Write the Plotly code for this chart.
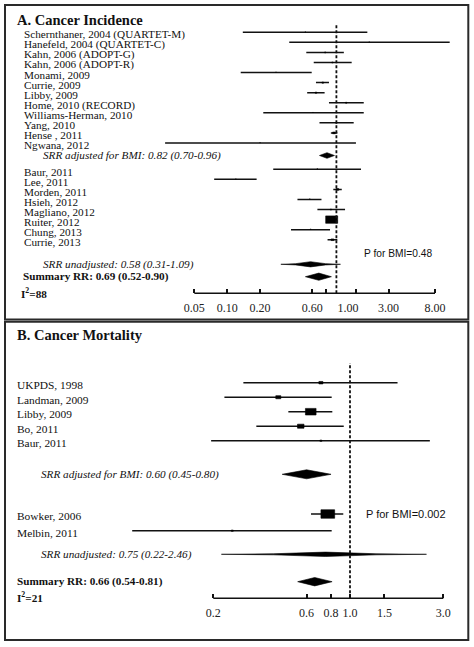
import numpy as np
import plotly.graph_objects as go

# ---------------- DATA ----------------
# Panel A: Cancer incidence
inc_g1_names = ["Schernthaner, 2004 (QUARTET-M)", "Hanefeld, 2004 (QUARTET-C)", "Kahn, 2006 (ADOPT-G)",
                "Kahn, 2006 (ADOPT-R)", "Monami, 2009", "Currie, 2009", "Libby, 2009", "Home, 2010 (RECORD)",
                "Williams-Herman, 2010", "Yang, 2010", "Hense , 2011", "Ngwana, 2012"]
inc_g1_est = [0.52, 2.00, 0.79, 0.92, 0.28, 0.75, 0.65, 1.23, 0.61, 1.00, 0.95, 0.20]
inc_g1_lo = [0.139, 0.37, 0.53, 0.62, 0.133, 0.65, 0.54, 0.855, 0.214, 0.70, 0.89, 0.027]
inc_g1_hi = [1.92, 10.9, 1.17, 1.38, 0.594, 0.855, 0.78, 1.78, 1.78, 1.44, 1.02, 1.51]
inc_g1_wt = [0.2, 0.2, 0.4, 0.4, 0.2, 0.6, 0.6, 0.4, 0.2, 0.4, 1.5, 0.2]

inc_g2_names = ["Baur, 2011", "Lee, 2011", "Morden, 2011", "Hsieh, 2012", "Magliano, 2012",
                "Ruiter, 2012", "Chung, 2013", "Currie, 2013"]
inc_g2_est = [0.67, 0.12, 1.02, 0.57, 0.89, 0.905, 0.58, 0.92]
inc_g2_lo = [0.264, 0.076, 0.937, 0.44, 0.67, 0.86, 0.384, 0.83]
inc_g2_hi = [1.68, 0.186, 1.12, 0.73, 1.20, 0.955, 0.874, 1.02]
inc_g2_wt = [0.3, 0.2, 1.5, 0.3, 0.4, 30, 0.3, 1.5]

inc_adj = (0.82, 0.70, 0.96)
inc_unadj = (0.58, 0.31, 1.09)
inc_sum = (0.69, 0.52, 0.90)
inc_i2 = 88
inc_p = "0.48"
inc_tickvals = [0.05, 0.1, 0.2, 0.6, 0.8, 1.5, 3, 8]
inc_labelvals = [0.05, 0.1, 0.2, 0.6, 1.28, 3, 8]
inc_labeltext = ["0.05", "0.10", "0.20", "0.60", "1.00", "3.00", "8.00"]

# Panel B: Cancer mortality
mort_g1_names = ["UKPDS, 1998", "Landman, 2009", "Libby, 2009", "Bo, 2011", "Baur, 2011"]
mort_g1_est = [0.71, 0.43, 0.63, 0.56, 0.71]
mort_g1_lo = [0.285, 0.228, 0.484, 0.332, 0.195]
mort_g1_hi = [1.75, 0.806, 0.812, 0.929, 2.56]
mort_g1_wt = [3.4, 5.3, 24, 9, 0.85]

mort_g2_names = ["Bowker, 2006", "Melbin, 2011"]
mort_g2_est = [0.77, 0.25]
mort_g2_lo = [0.632, 0.077]
mort_g2_hi = [0.924, 0.806]
mort_g2_wt = [40, 0.85]

mort_adj = (0.60, 0.45, 0.80)
mort_unadj = (0.75, 0.22, 2.46)
mort_sum = (0.66, 0.54, 0.81)
mort_i2 = 21
mort_p = "0.002"
mort_tickvals = [0.2, 0.6, 0.8, 1.0, 1.5, 3.0]
mort_ticktext = ["0.2", "0.6", "0.8", "1.0", "1.5", "3.0"]

# ---------------- LAYOUT GEOMETRY ----------------
W, H = 474, 647
SERIF = "Liberation Serif"
SANS = "Liberation Sans"
INK = "#111111"


def X(px):
    return px / W


def Y(py):
    return 1 - py / H


GA = dict(one_px=336.4, dec_px=109.2, lo=0.02, hi=12, top_px=25, axis_px=293.3, row0_px=32.3, row_px=10.06)
GB = dict(one_px=350.0, dec_px=195.6, lo=0.07, hi=3.5, top_px=363, axis_px=598.3, row0_px=382.7, row_px=14.5)


def xdomain(g):
    l = g["one_px"] + np.log10(g["lo"]) * g["dec_px"]
    r = g["one_px"] + np.log10(g["hi"]) * g["dec_px"]
    return [l / W, r / W]


def yrange(g):
    return [(g["axis_px"] - g["row0_px"]) / g["row_px"], (g["top_px"] - g["row0_px"]) / g["row_px"]]


def ydomain(g):
    return [Y(g["axis_px"]), Y(g["top_px"])]


def row_at(g, py):
    return (py - g["row0_px"]) / g["row_px"]


fig = go.Figure()


def ci_trace(lo, hi, rows, xa, ya):
    xs, ys = [], []
    for l, h, r in zip(lo, hi, rows):
        xs += [l, h, None]
        ys += [r, r, None]
    return go.Scatter(x=xs, y=ys, mode="lines", line=dict(color=INK, width=1.5),
                      xaxis=xa, yaxis=ya, hoverinfo="skip", showlegend=False)


def box_trace(est, wt, rows, g, c, xa, ya):
    xs, ys = [], []
    for e, w, r in zip(est, wt, rows):
        wpx = c * np.sqrt(w)
        f = 10 ** ((wpx / 2) / g["dec_px"])
        hh = 0.31 * wpx / g["row_px"]
        xs += [e / f, e * f, e * f, e / f, e / f, None]
        ys += [r - hh, r - hh, r + hh, r + hh, r - hh, None]
    return go.Scatter(x=xs, y=ys, mode="lines", fill="toself", fillcolor="black",
                      line=dict(color="black", width=0.6), xaxis=xa, yaxis=ya,
                      hoverinfo="skip", showlegend=False)


def diamond_trace(vals, row, half_px, g, xa, ya, concave=False):
    e, l, h = vals
    hh = half_px / g["row_px"]
    if concave:
        ml, mh = np.sqrt(l * e), np.sqrt(e * h)
        xs = [l, ml, e, mh, h, mh, e, ml, l]
        ys = [row, row - 0.25 * hh, row - hh, row - 0.25 * hh, row,
              row + 0.25 * hh, row + hh, row + 0.25 * hh, row]
    else:
        xs = [l, e, h, e, l]
        ys = [row, row - hh, row, row + hh, row]
    return go.Scatter(x=xs, y=ys, mode="lines", fill="toself", fillcolor="black",
                      line=dict(color="black", width=0.6), xaxis=xa, yaxis=ya,
                      hoverinfo="skip", showlegend=False)


def fmt(v):
    return f"{v[0]:.2f} ({v[1]:.2f}-{v[2]:.2f})"


annotations = []
shapes = []


def label(text, xpx, y, yref, size, family=SERIF, yshift=0):
    annotations.append(dict(text=text, x=X(xpx), xref="paper", y=y, yref=yref, xanchor="left",
                            yanchor="middle", showarrow=False, yshift=yshift,
                            font=dict(family=family, size=size, color=INK)))


# ---------------- PANEL A ----------------
a_rows1 = np.arange(len(inc_g1_names), dtype=float)
a_adj_row = row_at(GA, 155.5)
a_rows2 = row_at(GA, 169.3) + np.arange(len(inc_g2_names), dtype=float)
a_p_row = row_at(GA, 253.7)
a_unadj_row = row_at(GA, 264.3)
a_sum_row = row_at(GA, 276.7)
a_i2_row = row_at(GA, 292.7)

fig.add_trace(ci_trace(inc_g1_lo + inc_g2_lo, inc_g1_hi + inc_g2_hi, list(a_rows1) + list(a_rows2), "x", "y"))
fig.add_trace(box_trace(inc_g1_est + inc_g2_est, inc_g1_wt + inc_g2_wt, list(a_rows1) + list(a_rows2), GA, 2.19, "x", "y"))
fig.add_trace(diamond_trace(inc_adj, a_adj_row, 2.8, GA, "x", "y"))
fig.add_trace(diamond_trace(inc_unadj, a_unadj_row, 2.6, GA, "x", "y", concave=True))
fig.add_trace(diamond_trace(inc_sum, a_sum_row, 3.6, GA, "x", "y"))
fig.add_trace(go.Scatter(x=[1], y=[0], mode="markers", marker=dict(opacity=0), xaxis="x3", yaxis="y",
                         hoverinfo="skip", showlegend=False))

label("<b>A. Cancer Incidence</b>", 15, Y(20), "paper", 14.5)
for n, r in zip(inc_g1_names, a_rows1):
    label(n, 22, r, "y", 11.2, yshift=-2.5)
for n, r in zip(inc_g2_names, a_rows2):
    label(n, 22, r, "y", 11.2, yshift=-2.5)
label("<i>SRR adjusted for BMI: " + fmt(inc_adj) + "</i>", 40.5, a_adj_row, "y", 11.2)
label("<i>SRR unadjusted: " + fmt(inc_unadj) + "</i>", 40.5, a_unadj_row, "y", 11.2)
label("P for BMI=" + inc_p, 362, a_p_row, "y", 10.2, family=SANS)
label("<b>Summary RR: " + fmt(inc_sum) + "</b>", 21, a_sum_row, "y", 11.2)
label(f"<b>I<sup>2</sup>={inc_i2}</b>", 19, a_i2_row, "y", 11.2)

# ---------------- PANEL B ----------------
b_rows1 = np.arange(len(mort_g1_names), dtype=float)
b_adj_row = row_at(GB, 474.3)
b_rows2 = row_at(GB, 514.0) + 1.15 * np.arange(len(mort_g2_names), dtype=float)
b_unadj_row = row_at(GB, 554.3)
b_sum_row = row_at(GB, 581.7)
b_i2_row = row_at(GB, 596.5)

fig.add_trace(ci_trace(mort_g1_lo + mort_g2_lo, mort_g1_hi + mort_g2_hi, list(b_rows1) + list(b_rows2), "x2", "y2"))
fig.add_trace(box_trace(mort_g1_est + mort_g2_est, mort_g1_wt + mort_g2_wt, list(b_rows1) + list(b_rows2), GB, 2.17, "x2", "y2"))
fig.add_trace(diamond_trace(mort_adj, b_adj_row, 4.5, GB, "x2", "y2"))
fig.add_trace(diamond_trace(mort_unadj, b_unadj_row, 2.2, GB, "x2", "y2", concave=True))
fig.add_trace(diamond_trace(mort_sum, b_sum_row, 4.2, GB, "x2", "y2"))

label("<b>B. Cancer Mortality</b>", 15, Y(335), "paper", 14.5)
for n, r in zip(mort_g1_names, b_rows1):
    label(n, 15, r, "y2", 11.4, yshift=-2.3)
for n, r in zip(mort_g2_names, b_rows2):
    label(n, 15, r, "y2", 11.4, yshift=-2.3)
label("<i>SRR adjusted for BMI: " + fmt(mort_adj) + "</i>", 39, b_adj_row, "y2", 11.2)
label("<i>SRR unadjusted: " + fmt(mort_unadj) + "</i>", 38.5, b_unadj_row, "y2", 11.2)
label("P for BMI=" + mort_p, 364, b_rows2[0], "y2", 11, family=SANS)
label("<b>Summary RR: " + fmt(mort_sum) + "</b>", 15, b_sum_row, "y2", 11.2)
label(f"<b>I<sup>2</sup>={mort_i2}</b>", 15, b_i2_row, "y2", 11.2)

# ---------------- SHAPES ----------------
BORDER = "#2a2a2a"
shapes.append(dict(type="rect", xref="paper", yref="paper", x0=X(5), x1=X(468.3), y0=Y(319.5), y1=Y(5),
                   line=dict(color=BORDER, width=2)))
shapes.append(dict(type="rect", xref="paper", yref="paper", x0=X(5), x1=X(468.3), y0=Y(640), y1=Y(321.8),
                   line=dict(color=BORDER, width=2)))
for xr, g, lo, hi in [("x", GA, inc_tickvals[0], inc_tickvals[-1]), ("x2", GB, mort_tickvals[0], mort_tickvals[-1])]:
    shapes.append(dict(type="line", xref=xr, yref="paper", x0=1, x1=1, y0=Y(g["axis_px"]), y1=Y(g["top_px"]),
                       line=dict(color=INK, width=1.8, dash="3px,2px")))
    shapes.append(dict(type="line", xref=xr, yref="paper", x0=lo, x1=hi, y0=Y(g["axis_px"]), y1=Y(g["axis_px"]),
                       line=dict(color=INK, width=1.5)))

tickfont = dict(family=SERIF, size=12, color="#222222")
fig.update_layout(
    width=W, height=H, margin=dict(l=0, r=0, t=0, b=0),
    paper_bgcolor="white", plot_bgcolor="rgba(0,0,0,0)", showlegend=False,
    annotations=annotations, shapes=shapes,
    xaxis=dict(type="log", domain=xdomain(GA), range=[np.log10(GA["lo"]), np.log10(GA["hi"])], anchor="y",
               tickvals=inc_tickvals, showticklabels=False, ticks="inside", ticklen=4, tickwidth=1.5,
               tickcolor=INK, showgrid=False, zeroline=False, showline=False),
    xaxis3=dict(type="log", overlaying="x", range=[np.log10(GA["lo"]), np.log10(GA["hi"])], anchor="y",
                tickvals=inc_labelvals, ticktext=inc_labeltext, ticks="", tickfont=tickfont,
                showgrid=False, zeroline=False, showline=False, ticklabelstandoff=6),
    yaxis=dict(domain=ydomain(GA), range=yrange(GA), visible=False, anchor="x"),
    xaxis2=dict(type="log", domain=xdomain(GB), range=[np.log10(GB["lo"]), np.log10(GB["hi"])], anchor="y2",
                tickvals=mort_tickvals, ticktext=mort_ticktext, ticks="inside", ticklen=4, tickwidth=1.5,
                tickcolor=INK, tickfont=tickfont, showgrid=False, zeroline=False, showline=False,
                ticklabelstandoff=6),
    yaxis2=dict(domain=ydomain(GB), range=yrange(GB), visible=False, anchor="x2"),
)

fig.write_html("out.html", config={"displayModeBar": False},
               post_script="document.body.style.margin='0';document.body.style.overflow='hidden';")
